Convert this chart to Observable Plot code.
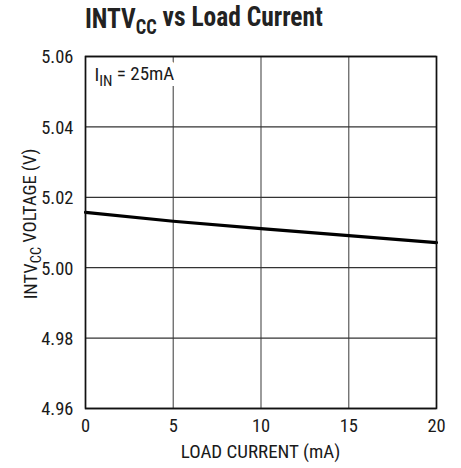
<!DOCTYPE html>
<html>
<head>
<meta charset="utf-8">
<script src="https://cdn.jsdelivr.net/npm/d3@7"></script>
<script src="https://cdn.jsdelivr.net/npm/@observablehq/plot@0.6"></script>
<style>
  html, body { margin: 0; padding: 0; background: #fff; }
  svg text { font-family: "Roboto Condensed", "Liberation Sans Narrow", "DejaVu Sans Condensed", sans-serif; }
</style>
</head>
<body>
<div id="chart"></div>
<script>
// Data
const loadCurrent = [0, 5, 10, 15, 20];                          // mA
const intvccVoltage = [5.0157, 5.0132, 5.0111, 5.0091, 5.0071];  // V
const xTicks = [0, 5, 10, 15, 20];
const yTicks = [4.96, 4.98, 5.00, 5.02, 5.04, 5.06];
const annotation = ["IIN = 25mA"];

const data = loadCurrent.map((x, i) => ({x, y: intvccVoltage[i]}));

const W = 461, H = 468;
const mL = 85, mR = 25, mT = 56, mB = 60;

const plot = Plot.plot({
  width: W,
  height: H,
  marginTop: mT,
  marginBottom: mB,
  marginLeft: mL,
  marginRight: mR,
  style: {fontSize: "18px", background: "#fff"},
  x: {domain: [0, 20], ticks: xTicks, label: null},
  y: {domain: [4.96, 5.06], ticks: yTicks, label: null},
  marks: [
    Plot.gridX(xTicks, {stroke: "#666", strokeOpacity: 1, strokeWidth: 1.3}),
    Plot.gridY(yTicks, {stroke: "#333", strokeOpacity: 1, strokeWidth: 1.3}),
    // halo behind annotation
    Plot.text(annotation, {frameAnchor: "top-left", dx: 9, dy: 11, textAnchor: "start", lineAnchor: "top",
      fontSize: 19, fill: "white", stroke: "white", strokeWidth: 12, className: "iin"}),
    Plot.text(annotation, {frameAnchor: "top-left", dx: 9, dy: 11, textAnchor: "start", lineAnchor: "top",
      fontSize: 19, fill: "#1a1a1a", className: "iin"}),
    Plot.line(data, {x: "x", y: "y", stroke: "#000", strokeWidth: 3.2}),
    Plot.frame({stroke: "#111", strokeWidth: 1.6}),
    Plot.axisX(xTicks, {tickSize: 0, tickPadding: 10, fontSize: 18.5, fill: "#1a1a1a", tickFormat: d => String(d)}),
    Plot.axisY(yTicks, {tickSize: 0, tickPadding: 12, fontSize: 18.5, fill: "#1a1a1a", dy: 1, tickFormat: d => d.toFixed(2)})
  ]
});

document.getElementById("chart").appendChild(plot);
const svg = d3.select(plot);

function withSub(sel, pre, sub, post, subSize) {
  sel.text("");
  sel.append("tspan").text(pre);
  sel.append("tspan").attr("dy", "0.3em").attr("font-size", subSize).text(sub);
  sel.append("tspan").attr("dy", "-0.3em").text(post);
}

// Annotation subscript
svg.selectAll(".iin text").each(function() {
  withSub(d3.select(this), "I", "IN", " = 25mA", "0.8em");
});

// Title, fitted to the reference width
const title = svg.append("text")
  .attr("text-anchor", "start")
  .attr("font-size", 28).attr("font-weight", "bold").attr("fill", "#222");
withSub(title, "INTV", "CC", " vs Load Current", "0.72em");
const tw = title.node().getBBox().width;
const sx = Math.min(1, 238 / tw);
title.attr("transform", `translate(${mL},28) scale(${sx},1)`);

// X axis label
svg.append("text").attr("x", (mL + (W - mR)) / 2).attr("y", 458)
  .attr("text-anchor", "middle").attr("font-size", 19).attr("fill", "#1a1a1a")
  .text("LOAD CURRENT (mA)");

// Y axis label
const yl = svg.append("text")
  .attr("transform", `translate(37, ${(mT + (H - mB)) / 2 - 8}) rotate(-90)`)
  .attr("text-anchor", "middle").attr("font-size", 18.5).attr("fill", "#1a1a1a");
withSub(yl, "INTV", "CC", " VOLTAGE (V)", "0.78em");
</script>
</body>
</html>
